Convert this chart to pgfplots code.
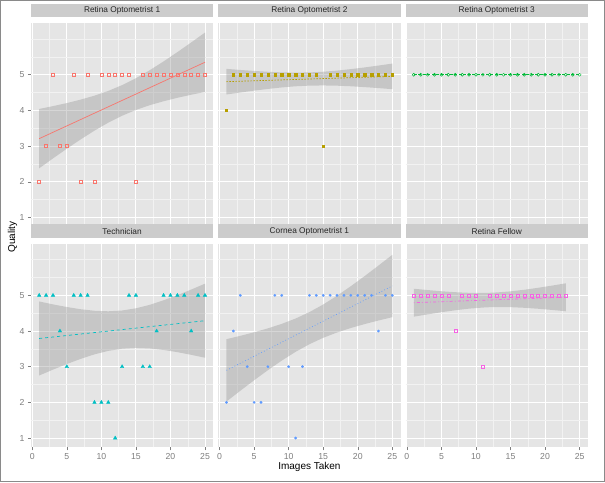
\documentclass[border=0pt]{standalone}
\usepackage{fontspec}
\setmainfont{Liberation Sans}
\usepackage{pgfplots}
\pgfplotsset{compat=1.18}

\definecolor{panelbg}{HTML}{E5E5E5}
\definecolor{stripbg}{HTML}{CCCCCC}
\definecolor{minorgrid}{HTML}{F2F2F2}
\definecolor{tickgray}{HTML}{7F7F7F}
\definecolor{framegray}{HTML}{8A8A8A}
\definecolor{cRedA}{HTML}{F8766D}
\definecolor{cOlive}{HTML}{B79F00}
\definecolor{cGreen}{HTML}{00BA38}
\definecolor{cCyan}{HTML}{00BFC4}
\definecolor{cBlue}{HTML}{619CFF}
\definecolor{cPink}{HTML}{F564E3}

\pgfplotsset{
  facet/.style={
    scale only axis, width=182.4pt, height=203.4pt,
    xmin=-0.2, xmax=26.2, ymin=0.741, ymax=6.442,
    axis background/.style={fill=panelbg},
    axis line style={draw=none},
    grid=both,
    major grid style={white, line width=0.9pt},
    minor grid style={minorgrid, line width=0.45pt},
    xtick={0,5,...,25}, minor xtick={2.5,7.5,...,22.5},
    ytick={1,...,5}, minor ytick={1.5,2.5,3.5,4.5,5.5,6},
    tick align=outside, major tick length=3pt, minor tick length=0pt,
    tick style={tickgray, line width=0.5pt},
    xtick pos=bottom, ytick pos=left,
    ticklabel style={font=\fontsize{8.7}{9}\selectfont, text=tickgray},
    /pgf/number format/assume math mode=true,
    title style={at={(0.5,1)}, anchor=south, fill=stripbg,
      minimum width=182.4pt, minimum height=13.3pt, inner sep=0pt,
      font=\fontsize{8.3}{9}\selectfont, text=black!85, yshift=0pt},
    anchor=south west,
  },
  nox/.style={xticklabels={}, xtick style={draw=none}},
  noy/.style={yticklabels={}, ytick style={draw=none}},
  band/.style={fill=black!40, fill opacity=0.4, draw=none},
  fit/.style={line width=0.7pt},
}

\begin{document}
\begin{tikzpicture}
\useasboundingbox (0,0) rectangle (605pt,482pt);
\fill[white] (0,0) rectangle (605pt,482pt);
\draw[framegray, line width=1.2pt] (0.6pt,0.6pt) rectangle (604.4pt,481.4pt);

% Retina Optometrist 1
\begin{axis}[facet, nox, at={(30.9pt,255.3pt)}, title={Retina Optometrist 1}]
\addplot[band] coordinates {(1,4.041)(3,4.121)(5,4.206)(7,4.303)(9,4.413)(11,4.547)(13,4.709)(15,4.903)(17,5.127)(19,5.373)(21,5.634)(23,5.905)(25,6.183)
 (25,4.519)(23,4.439)(21,4.354)(19,4.257)(17,4.147)(15,4.013)(13,3.851)(11,3.657)(9,3.433)(7,3.187)(5,2.926)(3,2.655)(1,2.377)};
\addplot[fit, cRedA] coordinates {(1,3.209)(25,5.351)};
\addplot[only marks, mark=square, mark size=1.5pt, cRedA, mark options={line width=0.5pt}] coordinates {
 (1,2)(2,3)(3,5)(4,3)(5,3)(6,5)(7,2)(8,5)(9,2)(10,5)(11,5)(12,5)(13,5)(14,5)(15,2)
 (16,5)(17,5)(18,5)(19,5)(20,5)(21,5)(22,5)(23,5)(24,5)(25,5)};
\end{axis}

% Retina Optometrist 2
\begin{axis}[facet, nox, noy, at={(218.2pt,255.3pt)}, title={Retina Optometrist 2}]
\addplot[band] coordinates {(1,5.165)(3,5.134)(5,5.107)(7,5.083)(9,5.066)(11,5.060)(13,5.065)(15,5.084)(17,5.116)(19,5.158)(21,5.205)(23,5.258)(25,5.313)
 (25,4.595)(23,4.626)(21,4.653)(19,4.677)(17,4.693)(15,4.700)(13,4.695)(11,4.676)(9,4.644)(7,4.602)(5,4.555)(3,4.502)(1,4.447)};
\addplot[fit, cOlive, dash pattern=on 1.5pt off 1.5pt] coordinates {(1,4.806)(25,4.954)};
\addplot[only marks, mark=square*, mark size=1.15pt, cOlive, mark options={line width=0.3pt}] coordinates {
 (1,4)(2,5)(3,5)(4,5)(5,5)(6,5)(7,5)(8,5)(9,5)(10,5)(11,5)(12,5)(13,5)(14,5)(15,3)
 (16,5)(17,5)(18,5)(19,5)(20,5)(21,5)(22,5)(23,5)(24,5)(25,5)};
\end{axis}

% Retina Optometrist 3
\begin{axis}[facet, nox, noy, at={(405.5pt,255.3pt)}, title={Retina Optometrist 3}]
\addplot[fit, cGreen, dash pattern=on 3pt off 1.5pt] coordinates {(1,5)(25,5)};
\addplot[only marks, mark=o, mark size=1.5pt, cGreen, mark options={line width=0.5pt}] coordinates {
 (1,5)(2,5)(3,5)(4,5)(5,5)(6,5)(7,5)(8,5)(9,5)(10,5)(11,5)(12,5)(13,5)(14,5)(15,5)
 (16,5)(17,5)(18,5)(19,5)(20,5)(21,5)(22,5)(23,5)(24,5)(25,5)};
\end{axis}

% Technician
\begin{axis}[facet, at={(30.9pt,34.7pt)}, title={Technician}]
\addplot[band] coordinates {(1,4.829)(3,4.746)(5,4.673)(7,4.611)(9,4.568)(11,4.553)(13,4.575)(15,4.637)(17,4.734)(19,4.861)(21,5.005)(23,5.162)(25,5.327)
 (25,3.251)(23,3.333)(21,3.408)(19,3.469)(17,3.512)(15,3.527)(13,3.505)(11,3.443)(9,3.346)(7,3.219)(5,3.075)(3,2.918)(1,2.753)};
\addplot[fit, cCyan, dash pattern=on 3pt off 3pt] coordinates {(1,3.791)(25,4.289)};
\addplot[only marks, mark=triangle*, mark size=2pt, cCyan] coordinates {
 (1,5)(2,5)(3,5)(4,4)(5,3)(6,5)(7,5)(8,5)(9,2)(10,2)(11,2)(12,1)(13,3)(14,5)(15,5)
 (16,3)(17,3)(18,4)(19,5)(20,5)(21,5)(22,5)(23,4)(24,5)(25,5)};
\end{axis}

% Cornea Optometrist 1
\begin{axis}[facet, noy, at={(218.2pt,34.7pt)}, title={Cornea Optometrist 1}]
\addplot[band] coordinates {(1,3.772)(3,3.865)(5,3.965)(7,4.075)(9,4.201)(11,4.350)(13,4.530)(15,4.744)(17,4.989)(19,5.257)(21,5.540)(23,5.835)(25,6.136)
 (25,4.388)(23,4.295)(21,4.195)(19,4.085)(17,3.959)(15,3.810)(13,3.630)(11,3.416)(9,3.171)(7,2.903)(5,2.620)(3,2.325)(1,2.024)};
\addplot[fit, cBlue, dash pattern=on 0.8pt off 2.2pt] coordinates {(1,2.898)(25,5.262)};
\addplot[only marks, mark=*, mark size=1.2pt, cBlue] coordinates {
 (1,2)(2,4)(3,5)(4,3)(5,2)(6,2)(7,3)(8,5)(9,5)(10,3)(11,1)(12,3)(13,5)(14,5)(15,5)
 (16,5)(17,5)(18,5)(19,5)(20,5)(21,5)(22,5)(23,4)(24,5)(25,5)};
\end{axis}

% Retina Fellow
\begin{axis}[facet, noy, at={(405.5pt,34.7pt)}, title={Retina Fellow}]
\addplot[band] coordinates {(1,5.185)(3,5.148)(5,5.115)(7,5.088)(9,5.071)(11,5.067)(12,5.072)(13,5.081)(15,5.112)(17,5.157)(19,5.212)(21,5.273)(23,5.337)
 (23,4.554)(21,4.591)(19,4.624)(17,4.651)(15,4.669)(13,4.672)(12,4.668)(11,4.658)(9,4.627)(7,4.582)(5,4.527)(3,4.467)(1,4.402)};
\addplot[fit, cPink, dash pattern=on 0.8pt off 2.2pt on 3pt off 2.2pt] coordinates {(1,4.794)(23,4.946)};
\addplot[only marks, mark=square, mark size=1.5pt, cPink, mark options={line width=0.5pt}] coordinates {
 (1,5)(2,5)(3,5)(4,5)(5,5)(6,5)(7,4)(8,5)(9,5)(10,5)(11,3)(12,5)(13,5)(14,5)(15,5)
 (16,5)(17,5)(18,5)(19,5)(20,5)(21,5)(22,5)(23,5)};
\end{axis}

\node[rotate=90, font=\fontsize{10}{12}\selectfont] at (12.5pt,245pt) {Quality};
\node[font=\fontsize{10}{12}\selectfont] at (309.4pt,15.3pt) {Images Taken};
\end{tikzpicture}
\end{document}
